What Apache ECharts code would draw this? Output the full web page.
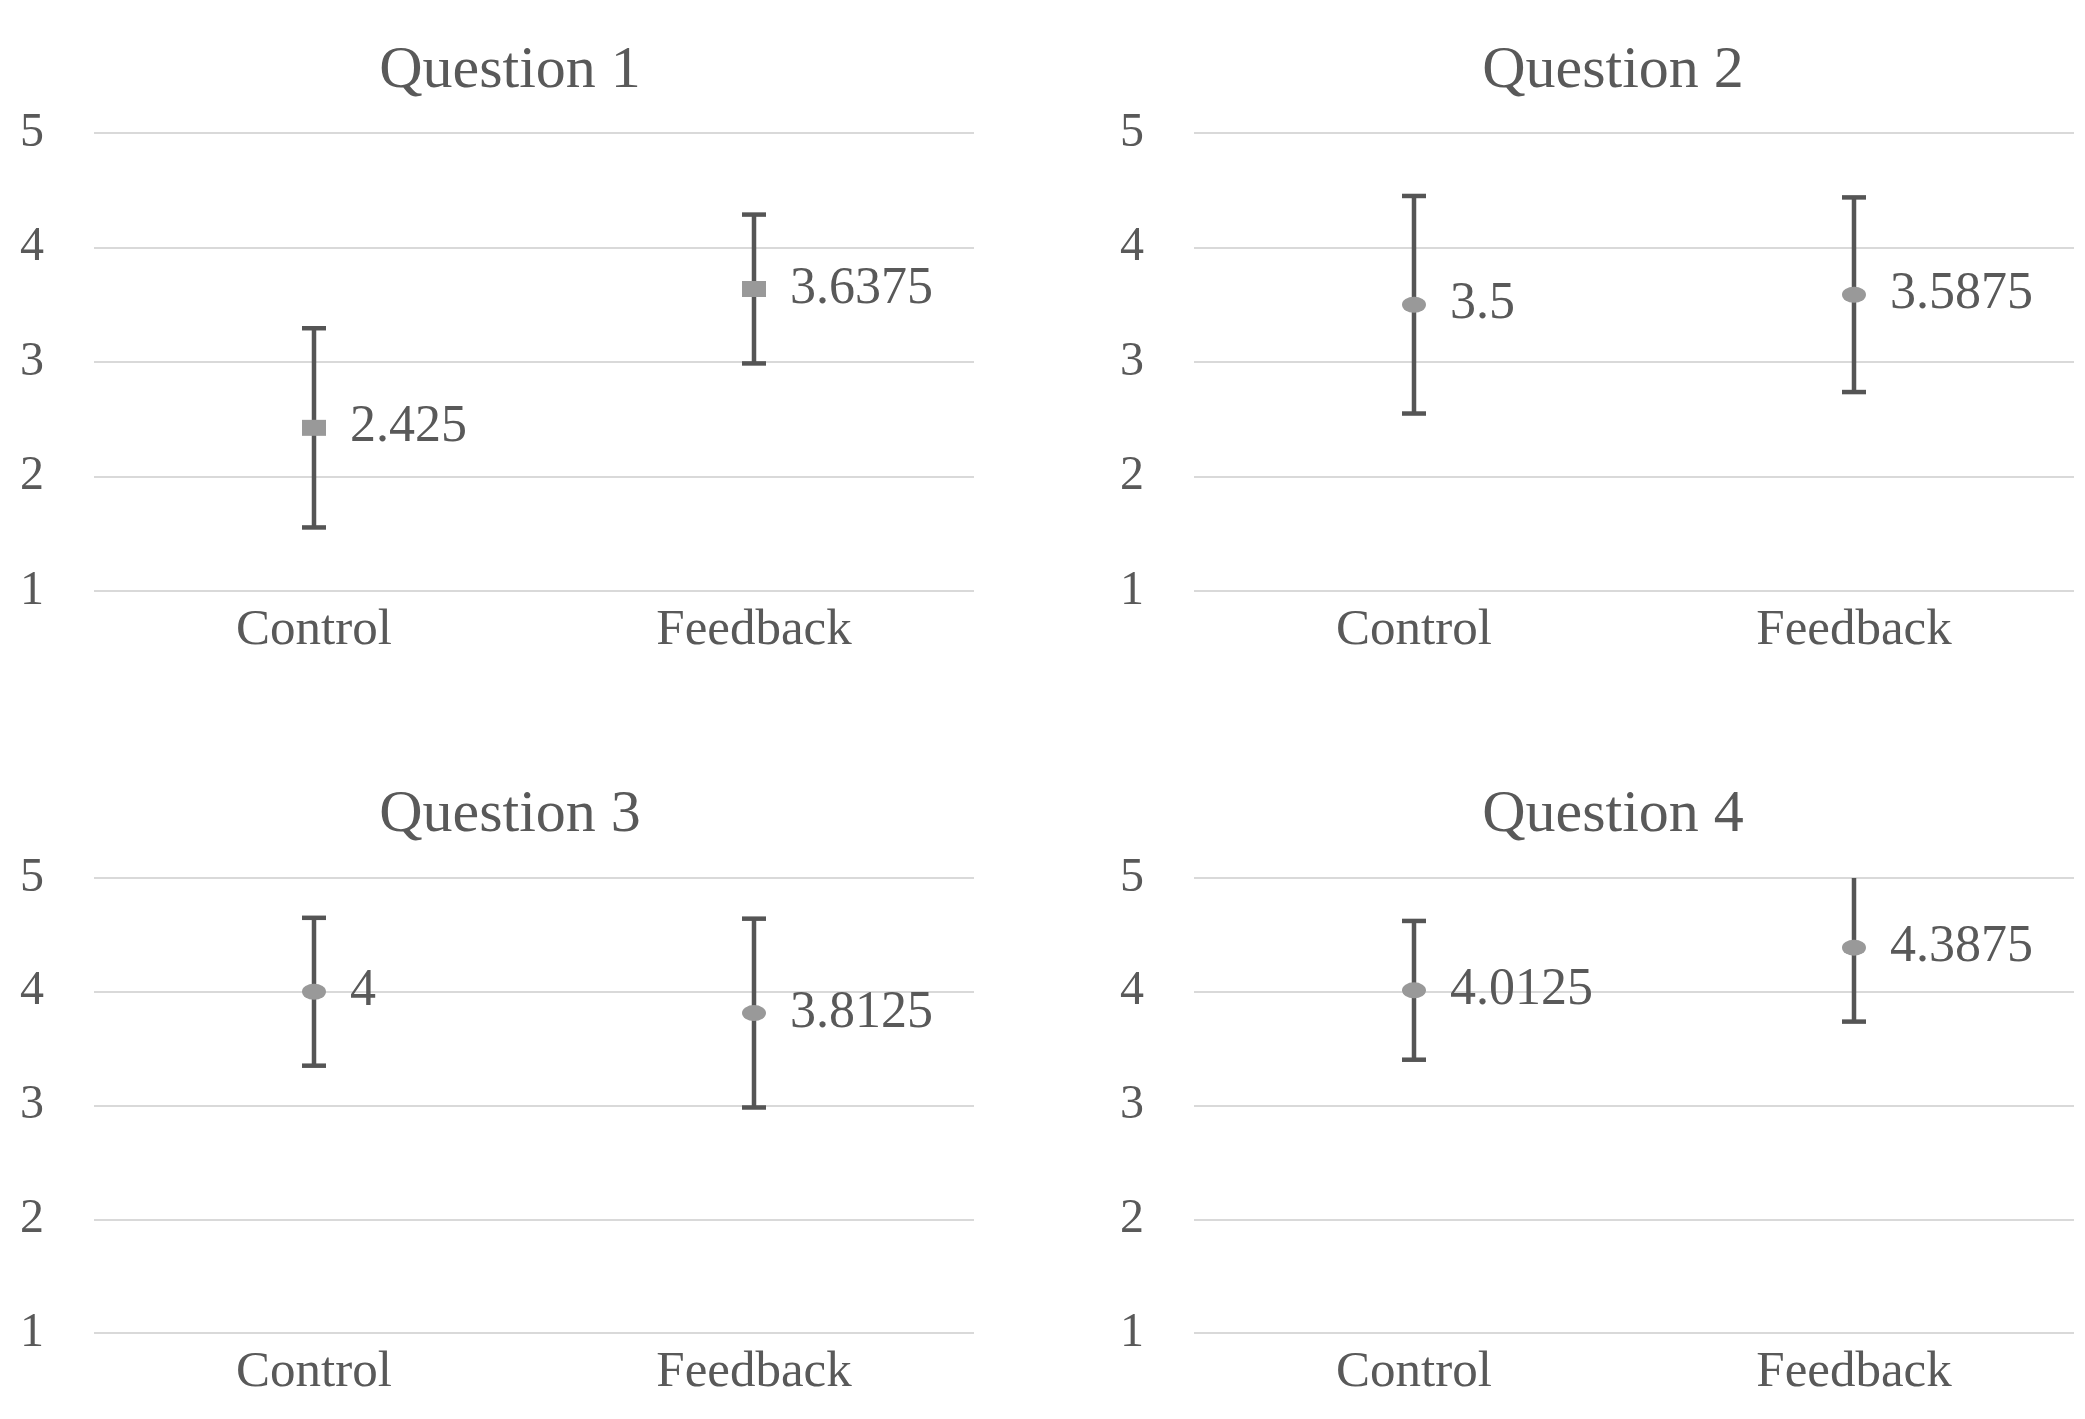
<!DOCTYPE html>
<html>
<head>
<meta charset="utf-8">
<style>
  html, body { margin: 0; padding: 0; background: #fff; }
  #main { width: 2085px; height: 1419px; }
</style>
<script src="https://cdn.jsdelivr.net/npm/echarts@6/dist/echarts.min.js"></script>
</head>
<body>
<div id="main"></div>
<script>
var categories = ['Control', 'Feedback'];
var titles = ['Question 1', 'Question 2', 'Question 3', 'Question 4'];
// mean score per question: [Control, Feedback]
var q1Means = [2.425, 3.6375];
var q2Means = [3.5, 3.5875];
var q3Means = [4, 3.8125];
var q4Means = [4.0125, 4.3875];
// half length of the error bars
var q1Err = [0.87, 0.65];
var q2Err = [0.95, 0.85];
var q3Err = [0.65, 0.83];
var q4Err = [0.61, 0.65];
var yMin = 1, yMax = 5, yStep = 1;

var means = [q1Means, q2Means, q3Means, q4Means];
var errs = [q1Err, q2Err, q3Err, q4Err];

var myChart = echarts.init(document.getElementById('main'));

var font = 'Liberation Serif';
var textColor = '#595959';

// panel layout (markers are drawn a bit wider than tall, as in the picture)
var panels = [
    { left: 94, width: 880, top: 133, height: 458, titleX: 505, titleTop: 36, symbol: 'rect', size: [24, 16] },
    { left: 1194, width: 880, top: 133, height: 458, titleX: 1608, titleTop: 36, symbol: 'circle', size: [24, 16] },
    { left: 94, width: 880, top: 878, height: 455, titleX: 505, titleTop: 780, symbol: 'circle', size: [24, 16] },
    { left: 1194, width: 880, top: 878, height: 455, titleX: 1608, titleTop: 780, symbol: 'circle', size: [24, 16] }
];

function renderErrorBar(params, api) {
    var x = api.value(0);
    var lo = api.coord([x, api.value(1)]);
    var hi = api.coord([x, api.value(2)]);
    var w = 12;
    var style = { stroke: '#555555', lineWidth: 4.5 };
    return {
        type: 'group',
        children: [
            { type: 'line', shape: { x1: hi[0], y1: hi[1], x2: lo[0], y2: lo[1] }, style: style },
            { type: 'line', shape: { x1: hi[0] - w, y1: hi[1], x2: hi[0] + w, y2: hi[1] }, style: style },
            { type: 'line', shape: { x1: lo[0] - w, y1: lo[1], x2: lo[0] + w, y2: lo[1] }, style: style }
        ]
    };
}

var option = {
    backgroundColor: '#ffffff',
    animation: false,
    title: [],
    grid: [],
    xAxis: [],
    yAxis: [],
    series: []
};

panels.forEach(function (p, i) {
    option.title.push({
        text: titles[i],
        left: p.titleX,
        top: p.titleTop,
        textAlign: 'center',
        textStyle: { fontFamily: font, fontSize: 60, fontWeight: 'normal', color: textColor }
    });
    option.grid.push({ left: p.left, top: p.top, width: p.width, height: p.height });
    option.xAxis.push({
        type: 'category',
        gridIndex: i,
        data: categories,
        axisLine: { show: false },
        axisTick: { show: false },
        axisLabel: { fontFamily: font, fontSize: 51, color: textColor, margin: 14 }
    });
    option.yAxis.push({
        type: 'value',
        gridIndex: i,
        min: yMin,
        max: yMax,
        interval: yStep,
        axisLine: { show: false },
        axisTick: { show: false },
        axisLabel: { fontFamily: font, fontSize: 48, color: textColor, margin: 50 },
        splitLine: { lineStyle: { color: '#d9d9d9', width: 2 } }
    });
    option.series.push({
        type: 'custom',
        xAxisIndex: i,
        yAxisIndex: i,
        clip: true,
        renderItem: renderErrorBar,
        encode: { x: 0, y: [1, 2] },
        data: means[i].map(function (m, k) {
            return [k, m - errs[i][k], m + errs[i][k]];
        }),
        z: 2
    });
    option.series.push({
        type: 'scatter',
        xAxisIndex: i,
        yAxisIndex: i,
        symbol: p.symbol,
        symbolSize: p.size,
        itemStyle: { color: '#999999', opacity: 1 },
        label: {
            show: true,
            position: 'right',
            distance: 24,
            formatter: function (d) { return String(d.value); },
            fontFamily: font,
            fontSize: 52,
            color: textColor
        },
        data: means[i],
        z: 3
    });
});

myChart.setOption(option);
</script>
</body>
</html>
